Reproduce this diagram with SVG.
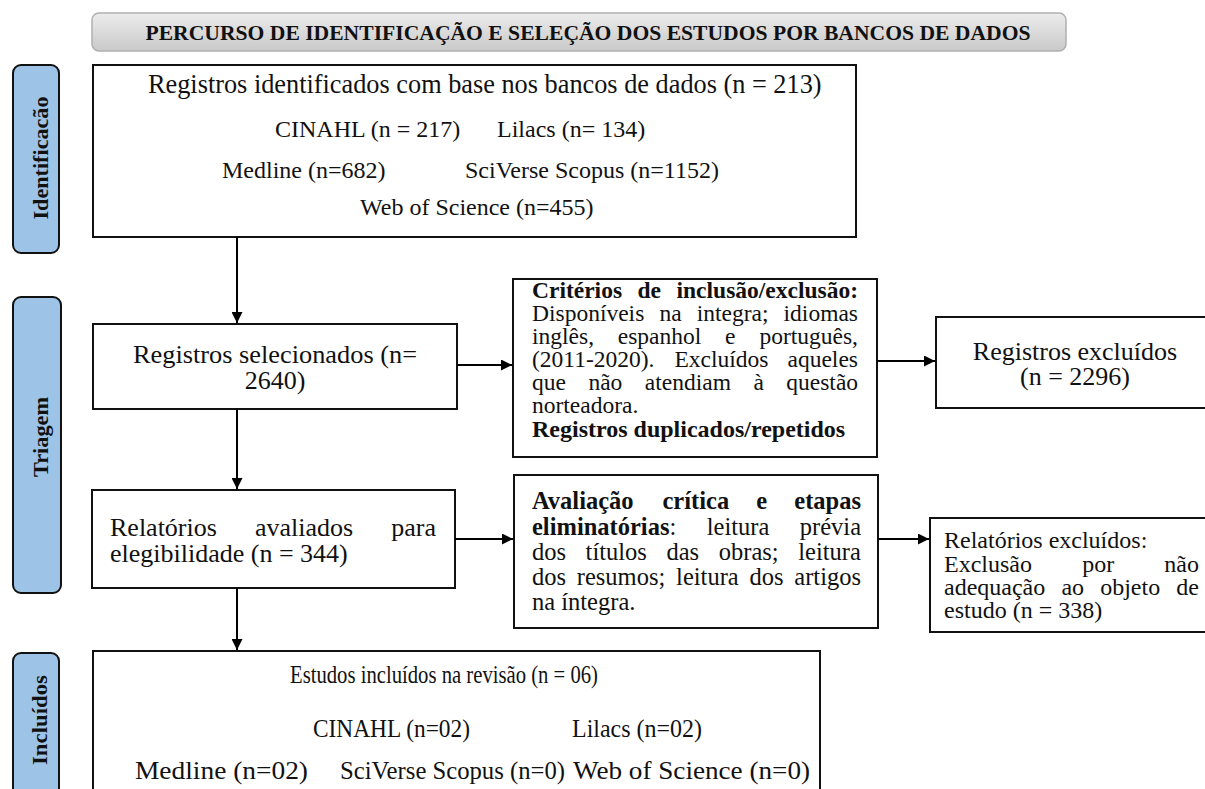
<svg xmlns="http://www.w3.org/2000/svg" width="1205" height="789" viewBox="0 0 1205 789">
<defs>
<linearGradient id="gTitle" x1="0" y1="0" x2="0" y2="1">
<stop offset="0" stop-color="#ececec"/>
<stop offset="1" stop-color="#c9c9c9"/>
</linearGradient>
<marker id="arr" viewBox="0 0 10 10" refX="10" refY="5" markerWidth="12" markerHeight="11" markerUnits="userSpaceOnUse" orient="auto">
<path d="M0,0 L10,5 L0,10 z" fill="#000"/>
</marker>
<style>
.box{fill:#fff;stroke:#111;stroke-width:2}
.side{fill:#9dc3e6;stroke:#111;stroke-width:2}
.t{font-family:"Liberation Serif","Times New Roman",serif;font-size:24.5px;fill:#111}
.b{font-weight:bold}
.cr{font-size:23.5px}
.rx{font-size:24px}
.sl{font-family:"Liberation Serif","Times New Roman",serif;font-size:22px;font-weight:bold;fill:#111;text-anchor:middle}
.c{font-family:"Liberation Serif","Times New Roman",serif;font-size:25px;fill:#111}
.conn{stroke:#000;stroke-width:2;fill:none;marker-end:url(#arr)}
</style>
</defs>
<rect width="1205" height="789" fill="#fff"/>

<g id="title">
<rect x="92" y="13" width="974" height="38" rx="7" fill="url(#gTitle)" stroke="#b0b0b0" stroke-width="1.5"/>
<text x="588" y="40" class="t b" style="font-size:20px" text-anchor="middle" textLength="885" lengthAdjust="spacingAndGlyphs">PERCURSO DE IDENTIFICAÇÃO E SELEÇÃO DOS ESTUDOS POR BANCOS DE DADOS</text>
</g>

<g id="stage-identificacao">
<rect x="13" y="65" width="46" height="188" rx="8" class="side"/>
<text x="48" y="158" class="sl" transform="rotate(-90 48 158)" textLength="123" lengthAdjust="spacingAndGlyphs">Identificacão</text>
</g>
<g id="stage-triagem">
<rect x="13" y="297" width="48" height="296" rx="8" class="side"/>
<text x="48" y="437" class="sl" transform="rotate(-90 48 437)" textLength="80" lengthAdjust="spacingAndGlyphs">Triagem</text>
</g>
<g id="stage-incluidos">
<rect x="13" y="653" width="46" height="160" rx="8" class="side"/>
<text x="47" y="720" class="sl" transform="rotate(-90 47 720)" textLength="90" lengthAdjust="spacingAndGlyphs">Incluídos</text>
</g>

<g id="identified">
<rect x="93" y="65" width="763" height="172" class="box"/>
<text x="148" y="93" class="t" style="font-size:26.3px">Registros identificados com base nos bancos de dados (n = 213)</text>
<text x="275" y="137" class="t" style="font-size:24px">CINAHL (n = 217)</text>
<text x="497" y="137" class="t" style="font-size:24px">Lilacs (n= 134)</text>
<text x="222" y="178" class="t" style="font-size:24px">Medline (n=682)</text>
<text x="465" y="178" class="t" style="font-size:24px">SciVerse Scopus (n=1152)</text>
<text x="360" y="215" class="t" style="font-size:24px">Web of Science (n=455)</text>
</g>

<g id="selected">
<rect x="93" y="324" width="364" height="85" class="box"/>
<text x="133" y="363" class="t" style="font-size:26px" textLength="284" lengthAdjust="spacingAndGlyphs">Registros selecionados (n=</text>
<text x="275" y="389" class="t" style="font-size:26px" text-anchor="middle">2640)</text>
</g>

<g id="criteria">
<rect x="513" y="279" width="364" height="178" class="box"/>
<text y="298" class="t b cr"><tspan x="532">Critérios</tspan><tspan x="637.5">de</tspan><tspan x="676.5">inclusão/exclusão:</tspan></text>
<text y="321" class="t cr"><tspan x="532">Disponíveis</tspan><tspan x="659.4">na</tspan><tspan x="696.7">integra;</tspan><tspan x="783.6">idiomas</tspan></text>
<text y="344" class="t cr"><tspan x="532">inglês,</tspan><tspan x="617.8">espanhol</tspan><tspan x="725.1">e</tspan><tspan x="759.4">português,</tspan></text>
<text y="367" class="t cr"><tspan x="532">(2011-2020).</tspan><tspan x="674.5">Excluídos</tspan><tspan x="787.5">aqueles</tspan></text>
<text y="390" class="t cr"><tspan x="532">que</tspan><tspan x="588.4">não</tspan><tspan x="644.8">atendiam</tspan><tspan x="753.4">à</tspan><tspan x="786.3">questão</tspan></text>
<text x="532" y="413" class="t cr">norteadora.</text>
<text x="532" y="437" class="t b" style="font-size:24px">Registros duplicados/repetidos</text>
</g>

<g id="excluded-records">
<rect x="936" y="317" width="280" height="91" class="box"/>
<text x="1075" y="360" class="t" style="font-size:26px" text-anchor="middle">Registros excluídos</text>
<text x="1075" y="385" class="t" style="font-size:26px" text-anchor="middle">(n = 2296)</text>
</g>

<g id="assessed">
<rect x="92" y="490" width="363" height="98" class="box"/>
<text y="536" class="t" style="font-size:26px"><tspan x="110">Relatórios</tspan><tspan x="255">avaliados</tspan><tspan x="391.3">para</tspan></text>
<text x="110" y="562" class="t" style="font-size:26px">elegibilidade (n = 344)</text>
</g>

<g id="appraisal">
<rect x="514" y="475" width="364" height="153" class="box"/>
<text y="509" class="t b"><tspan x="532">Avaliação</tspan><tspan x="662.5">crítica</tspan><tspan x="756.3">e</tspan><tspan x="794.3">etapas</tspan></text>
<text y="535" class="t"><tspan x="532" class="b">eliminatórias</tspan><tspan>:</tspan><tspan x="706.8">leitura</tspan><tspan x="799.8">prévia</tspan></text>
<text y="560" class="t"><tspan x="532">dos</tspan><tspan x="585.6">títulos</tspan><tspan x="666.5">das</tspan><tspan x="718.8">obras;</tspan><tspan x="798.3">leitura</tspan></text>
<text y="585" class="t"><tspan x="532">dos</tspan><tspan x="576.8">resumos;</tspan><tspan x="676.1">leitura</tspan><tspan x="749.5">dos</tspan><tspan x="794.3">artigos</tspan></text>
<text x="532" y="610" class="t">na íntegra.</text>
</g>

<g id="excluded-reports">
<rect x="930" y="518" width="290" height="114" class="box"/>
<text x="944" y="548" class="t rx">Relatórios excluídos:</text>
<text y="572" class="t rx"><tspan x="944">Exclusão</tspan><tspan x="1082.2">por</tspan><tspan x="1164.3">não</tspan></text>
<text y="595" class="t rx"><tspan x="944">adequação</tspan><tspan x="1061.4">ao</tspan><tspan x="1100.2">objeto</tspan><tspan x="1176.3">de</tspan></text>
<text x="944" y="618" class="t rx">estudo (n = 338)</text>
</g>

<g id="included">
<rect x="93" y="651" width="727" height="160" class="box"/>
<text x="290" y="683" class="c" textLength="308" lengthAdjust="spacingAndGlyphs">Estudos incluídos na revisão (n = 06)</text>
<text x="313" y="737" class="c" textLength="157" lengthAdjust="spacingAndGlyphs">CINAHL (n=02)</text>
<text x="572" y="737" class="c" textLength="130" lengthAdjust="spacingAndGlyphs">Lilacs (n=02)</text>
<text x="135" y="779" class="c" textLength="173" lengthAdjust="spacingAndGlyphs">Medline (n=02)</text>
<text x="340" y="779" class="c" textLength="225" lengthAdjust="spacingAndGlyphs">SciVerse Scopus (n=0)</text>
<text x="573" y="779" class="c" textLength="237" lengthAdjust="spacingAndGlyphs">Web of Science (n=0)</text>
</g>

<g id="connectors">
<line x1="237" y1="237" x2="237" y2="323" class="conn"/>
<line x1="237" y1="409" x2="237" y2="489" class="conn"/>
<line x1="237" y1="588" x2="237" y2="650" class="conn"/>
<line x1="457" y1="365" x2="512" y2="365" class="conn"/>
<line x1="877" y1="361" x2="935" y2="361" class="conn"/>
<line x1="455" y1="539" x2="513" y2="539" class="conn"/>
<line x1="878" y1="539" x2="929" y2="539" class="conn"/>
</g>
</svg>
